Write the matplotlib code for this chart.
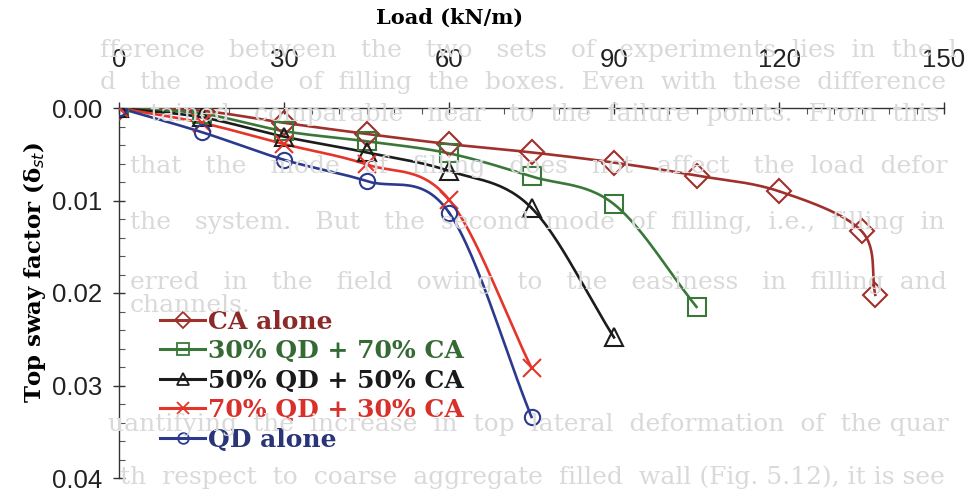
import matplotlib
matplotlib.use("Agg")
import matplotlib.pyplot as plt
import numpy as np

# load (kN/m) and top sway factor
load_ca = [0, 15, 30, 45, 60, 75, 90, 105, 120, 135, 137.5]
sway_ca = [0, 0.0003, 0.0016, 0.0028, 0.0039, 0.0048, 0.0059, 0.0073, 0.0090, 0.0133, 0.0202]

load_30 = [0, 15, 30, 45, 60, 75, 90, 105]
sway_30 = [0, 0.0006, 0.0025, 0.0036, 0.0049, 0.0074, 0.0104, 0.0215]

load_50 = [0, 15, 30, 45, 60, 75, 90]
sway_50 = [0, 0.0010, 0.0031, 0.0048, 0.0068, 0.0108, 0.0248]

load_70 = [0, 15, 30, 45, 60, 75]
sway_70 = [0, 0.0016, 0.0039, 0.0061, 0.0099, 0.0281]

load_qd = [0, 15, 30, 45, 60, 75]
sway_qd = [0, 0.0026, 0.0056, 0.0079, 0.0113, 0.0334]

labels = ["CA alone", "30% QD + 70% CA", "50% QD + 50% CA",
          "70% QD + 30% CA", "QD alone"]
line_colors = ["#a0302c", "#3a783a", "#1c1c1c", "#e5342a", "#2c3a8e"]
text_colors = ["#8c2a2a", "#356a35", "#1a1a1a", "#d8302a", "#2a3478"]
markers = ["D", "s", "^", "x", "o"]
msizes = [12, 13, 13, 13, 11]

# faint page text visible behind the scanned figure: (left px, centre px, right px, text)
page_lines = [
    (100, 50, 960, "fference between the two sets of experiments lies in the l"),
    (100, 82, 950, "d the mode of filling the boxes. Even with these difference"),
    (150, 114, 940, "tained comparable near to the failure points. From this"),
    (130, 167, 945, "that the mode of filling does not affect the load defor"),
    (130, 222, 945, "the system. But the second mode of filling, i.e., filling in"),
    (130, 282, 945, "erred in the field owing to the easiness in filling and"),
    (130, 306, 230, "channels."),
    (108, 424, 945, "uantifying the increase in top lateral deformation of the quar"),
    (120, 477, 945, "th respect to coarse aggregate filled wall (Fig. 5.12), it is see"),
]

W, H = 970, 492
fig = plt.figure(figsize=(W / 100, H / 100), dpi=100)

page_texts = []
for px, py, pr, txt in page_lines:
    t = fig.text(px / W, 1 - py / H, txt, color="#d9d9d9", fontsize=18,
                 family="DejaVu Serif", va="center", ha="left", zorder=0)
    page_texts.append((t, txt.split(" "), pr - px))

ax = fig.add_axes([119 / W, 1 - 478 / H, (944 - 119) / W, (478 - 108) / H])
ax.patch.set_alpha(0)

x_span, y_span = 150.0, 0.04
ax_w, ax_h = 825.0, 370.0


def smooth(xs, ys, n=30):
    # Catmull-Rom curve through the points (like Excel's smoothed line)
    p = np.column_stack([np.asarray(xs) / x_span * ax_w,
                         np.asarray(ys) / y_span * ax_h])
    p = np.vstack([2 * p[0] - p[1], p, 2 * p[-1] - p[-2]])
    out = []
    t = np.linspace(0, 1, n)[:, None]
    for i in range(1, len(p) - 2):
        p0, p1, p2, p3 = p[i - 1], p[i], p[i + 1], p[i + 2]
        seg = 0.5 * ((2 * p1) + (-p0 + p2) * t + (2 * p0 - 5 * p1 + 4 * p2 - p3) * t ** 2
                     + (-p0 + 3 * p1 - 3 * p2 + p3) * t ** 3)
        out.append(seg)
    out = np.vstack(out)
    return out[:, 0] / ax_w * x_span, out[:, 1] / ax_h * y_span


series = [(load_ca, sway_ca), (load_30, sway_30), (load_50, sway_50),
          (load_70, sway_70), (load_qd, sway_qd)]

handles = []
for i, (xs, ys) in enumerate(series):
    sx, sy = smooth(xs, ys)
    ax.plot(sx, sy, color=line_colors[i], lw=1.9, zorder=3)
    ax.plot(xs, ys, ls="none", marker=markers[i], ms=msizes[i],
            mfc="none", mec=line_colors[i], mew=1.5, zorder=4)
    h, = ax.plot([], [], color=line_colors[i], lw=2.2, marker=markers[i],
                 ms=msizes[i] * 0.7, mfc="none", mec=line_colors[i], mew=1.3)
    handles.append(h)

ax.set_xlim(0, 150)
ax.set_ylim(0.04, 0)
ax.xaxis.tick_top()
ax.xaxis.set_label_position("top")
ax.set_xticks(np.arange(0, 151, 30))
ax.set_xticks(np.arange(0, 151, 5), minor=True)
ax.set_yticks([0, 0.01, 0.02, 0.03, 0.04])
ax.set_yticklabels(["0.00", "0.01", "0.02", "0.03", "0.04"])
ax.set_yticks(np.arange(0, 0.0401, 0.002), minor=True)

for s in ["right", "bottom"]:
    ax.spines[s].set_visible(False)
for s in ["top", "left"]:
    ax.spines[s].set_color("#333333")
    ax.spines[s].set_linewidth(1.0)

ax.tick_params(which="major", direction="inout", length=8, width=1.0, color="#333333",
               labelsize=18.5, pad=8)
ax.tick_params(which="minor", direction="in", length=4, width=0.8, color="#555555")
ax.tick_params(axis="x", which="major", pad=22)
for lab in ax.get_xticklabels() + ax.get_yticklabels():
    lab.set_family("Liberation Sans")
    lab.set_color("#222222")

ax.set_xlabel("Load (kN/m)", fontsize=15, fontweight="bold", family="DejaVu Serif")
ax.xaxis.set_label_coords((450 - 119) / 825, 1 + (108 - 18) / 370)
ax.xaxis.label.set_va("center")
ax.set_ylabel("Top sway factor (\u03b4$_{st}$)", fontsize=16.5, fontweight="bold",
              family="DejaVu Serif")
ax.yaxis.set_label_coords((35 - 119) / 825, (478 - 272) / 370)
ax.yaxis.label.set_va("center")

leg = ax.legend(handles, labels, loc="upper left", bbox_to_anchor=(0.05, 0.455),
                frameon=False, handlelength=1.8, handletextpad=0.1, labelspacing=0.22,
                borderaxespad=0, borderpad=0,
                prop={"family": "DejaVu Serif", "weight": "bold", "size": 18})
for txt, c in zip(leg.get_texts(), text_colors):
    txt.set_color(c)

# the scanned page is justified: widen word gaps until each line spans its width
fig.canvas.draw()
r = fig.canvas.get_renderer()
for t, words, target in page_texts:
    gaps = [1] * (len(words) - 1)
    k = 0
    while gaps and t.get_window_extent(r).width < target - 4:
        gaps[k % len(gaps)] += 1
        k += 1
        t.set_text(words[0] + "".join(" " * g + w for g, w in zip(gaps, words[1:])))
        if k > 200:
            break

fig.savefig("out.png", dpi=100)
